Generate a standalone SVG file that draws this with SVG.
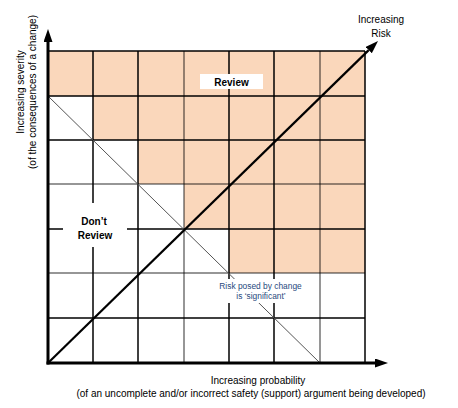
<svg xmlns="http://www.w3.org/2000/svg" width="458" height="408" viewBox="0 0 458 408">
  <style>
    text { font-family: "Liberation Sans", Arial, sans-serif; fill: #000; }
    .lbl { font-size: 10px; }
    .bold { font-size: 10px; font-weight: bold; }
    .small { font-size: 8.4px; fill: #1F497D; }
    .gk { stroke: #000; stroke-width: 1.5; fill: none; }
    .gg { stroke: #000; stroke-opacity: 0.55; stroke-width: 1.5; fill: none; }
    .thin { stroke: #555; stroke-width: 1; fill: none; }
    .axis { stroke: #000; stroke-width: 3; fill: none; }
    .risk { stroke: #000; stroke-width: 2.2; fill: none; }
    .box { fill: #fff; stroke: none; }
  </style>
  <defs>
    <marker id="arrow" markerUnits="userSpaceOnUse" markerWidth="14" markerHeight="10" refX="0" refY="4.5" orient="auto">
      <path d="M0,0 L13,4.5 L0,9 Z" fill="#000"/>
    </marker>
  </defs>
  <rect width="458" height="408" fill="#fff"/>

  <g id="matrix">
    <path d="M48,51 H365 V273 H229 V229 H184 V184 H138 V140 H93 V96 H48 Z" fill="#FAD7BB"/>
    <!-- horizontal grid lines -->
    <path class="gk" d="M48,51 H365"/>
    <path class="gk" d="M48,96 H365"/>
    <path class="gk" d="M48,140 H365"/>
    <path class="gg" d="M48,184 H365"/>
    <path class="gk" d="M48,229 H365"/>
    <path class="gg" d="M48,273 H365"/>
    <path class="gk" d="M48,318 H365"/>
    <!-- vertical grid lines -->
    <path class="gk" d="M93,51 V363"/>
    <path class="gk" d="M138,51 V363"/>
    <path class="gg" d="M184,51 V363"/>
    <path class="gk" d="M229,51 V363"/>
    <path class="gk" d="M274,51 V363"/>
    <path class="gg" d="M320,51 V363"/>
    <path class="gk" d="M365,51 V363"/>
    <!-- significance boundary -->
    <path class="thin" d="M48,96 L320,363"/>
  </g>

  <g id="review">
    <rect class="box" x="200" y="74" width="63" height="15"/>
    <text class="bold" x="231.5" y="85.5" text-anchor="middle">Review</text>
  </g>

  <g id="dont-review">
    <rect class="box" x="63" y="203" width="64" height="44"/>
    <text class="bold" x="94" y="225" text-anchor="middle">Don’t</text>
    <text class="bold" x="95" y="238.5" text-anchor="middle">Review</text>
  </g>

  <g id="significant">
    <rect class="box" x="214" y="279" width="93" height="24"/>
    <text class="small" x="260.5" y="288.5" text-anchor="middle">Risk posed by change</text>
    <text class="small" x="261" y="299" text-anchor="middle">is ‘significant’</text>
  </g>

  <g id="connectors">
    <path class="axis" d="M48,364.5 V42" marker-end="url(#arrow)"/>
    <path class="axis" d="M46.5,363 H375" marker-end="url(#arrow)"/>
    <path class="risk" d="M48,363 L368.7,50.1" marker-end="url(#arrow)"/>
  </g>

  <g id="risk-label">
    <text class="lbl" x="381" y="23" text-anchor="middle">Increasing</text>
    <text class="lbl" x="381" y="36.5" text-anchor="middle">Risk</text>
  </g>

  <g id="severity-label">
    <text class="lbl" transform="translate(24,92) rotate(-90)" text-anchor="middle">Increasing severity</text>
    <text class="lbl" transform="translate(35.5,92) rotate(-90)" text-anchor="middle">(of the consequences of a change)</text>
  </g>

  <g id="probability-label">
    <text class="lbl" x="258" y="384" text-anchor="middle">Increasing probability</text>
    <text class="lbl" x="251" y="396.5" text-anchor="middle">(of an uncomplete and/or incorrect safety (support) argument being developed)</text>
  </g>
</svg>
